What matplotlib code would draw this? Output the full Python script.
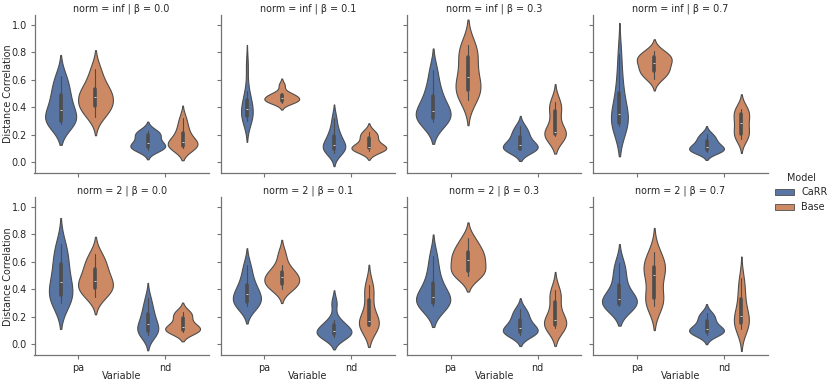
import matplotlib
matplotlib.use("Agg")
import matplotlib.pyplot as plt
from matplotlib.patches import Patch
import pandas as pd
import seaborn as sns

# distance correlation of 10 runs per violin
# norm = inf
inf_b00_pa_carr = [0.28, 0.29, 0.30, 0.31, 0.36, 0.40, 0.45, 0.50, 0.56, 0.625]
inf_b00_pa_base = [0.33, 0.38, 0.40, 0.42, 0.46, 0.49, 0.51, 0.54, 0.60, 0.68]
inf_b00_nd_carr = [0.085, 0.10, 0.105, 0.12, 0.13, 0.145, 0.18, 0.20, 0.21, 0.23]
inf_b00_nd_base = [0.105, 0.11, 0.115, 0.125, 0.14, 0.15, 0.18, 0.22, 0.26, 0.32]

inf_b01_pa_carr = [0.30, 0.32, 0.33, 0.34, 0.38, 0.395, 0.43, 0.46, 0.52, 0.70]
inf_b01_pa_base = [0.43, 0.44, 0.445, 0.455, 0.46, 0.47, 0.48, 0.495, 0.50, 0.56]
inf_b01_nd_carr = [0.07, 0.09, 0.095, 0.105, 0.12, 0.135, 0.17, 0.20, 0.24, 0.32]
inf_b01_nd_base = [0.08, 0.09, 0.10, 0.105, 0.108, 0.11, 0.15, 0.18, 0.20, 0.22]

inf_b03_pa_carr = [0.29, 0.31, 0.32, 0.33, 0.36, 0.39, 0.44, 0.49, 0.56, 0.67]
inf_b03_pa_base = [0.45, 0.50, 0.52, 0.54, 0.60, 0.635, 0.72, 0.78, 0.82, 0.855]
inf_b03_nd_carr = [0.085, 0.09, 0.095, 0.105, 0.12, 0.135, 0.16, 0.195, 0.22, 0.26]
inf_b03_nd_base = [0.19, 0.195, 0.20, 0.205, 0.21, 0.225, 0.33, 0.39, 0.41, 0.44]

inf_b07_pa_carr = [0.265, 0.27, 0.275, 0.30, 0.33, 0.37, 0.44, 0.52, 0.62, 0.79]
inf_b07_pa_base = [0.605, 0.64, 0.66, 0.675, 0.71, 0.73, 0.75, 0.765, 0.78, 0.81]
inf_b07_nd_carr = [0.073, 0.08, 0.085, 0.095, 0.105, 0.12, 0.135, 0.16, 0.18, 0.205]
inf_b07_nd_base = [0.17, 0.19, 0.20, 0.23, 0.27, 0.30, 0.33, 0.36, 0.38, 0.39]

# norm = 2
l2_b00_pa_carr = [0.30, 0.32, 0.35, 0.37, 0.43, 0.47, 0.53, 0.60, 0.66, 0.73]
l2_b00_pa_base = [0.345, 0.38, 0.40, 0.43, 0.45, 0.47, 0.52, 0.56, 0.60, 0.655]
l2_b00_nd_carr = [0.068, 0.085, 0.095, 0.105, 0.13, 0.16, 0.19, 0.23, 0.27, 0.335]
l2_b00_nd_base = [0.09, 0.095, 0.10, 0.11, 0.12, 0.135, 0.16, 0.20, 0.22, 0.235]

l2_b01_pa_carr = [0.275, 0.29, 0.30, 0.32, 0.35, 0.375, 0.40, 0.44, 0.50, 0.575]
l2_b01_pa_base = [0.40, 0.42, 0.435, 0.45, 0.48, 0.495, 0.51, 0.53, 0.58, 0.66]
l2_b01_nd_carr = [0.056, 0.065, 0.07, 0.08, 0.09, 0.105, 0.12, 0.15, 0.175, 0.30]
l2_b01_nd_base = [0.13, 0.135, 0.14, 0.145, 0.16, 0.18, 0.25, 0.35, 0.40, 0.43]

l2_b03_pa_carr = [0.28, 0.29, 0.30, 0.31, 0.33, 0.36, 0.41, 0.46, 0.54, 0.645]
l2_b03_pa_base = [0.50, 0.51, 0.525, 0.55, 0.60, 0.625, 0.65, 0.675, 0.72, 0.77]
l2_b03_nd_carr = [0.068, 0.08, 0.085, 0.095, 0.115, 0.125, 0.155, 0.185, 0.22, 0.255]
l2_b03_nd_base = [0.12, 0.125, 0.14, 0.145, 0.165, 0.19, 0.24, 0.33, 0.36, 0.395]

l2_b07_pa_carr = [0.275, 0.28, 0.29, 0.30, 0.32, 0.335, 0.38, 0.45, 0.52, 0.59]
l2_b07_pa_base = [0.28, 0.31, 0.33, 0.345, 0.48, 0.525, 0.55, 0.57, 0.61, 0.67]
l2_b07_nd_carr = [0.068, 0.08, 0.09, 0.10, 0.105, 0.118, 0.14, 0.175, 0.20, 0.225]
l2_b07_nd_base = [0.11, 0.135, 0.155, 0.165, 0.19, 0.225, 0.27, 0.35, 0.41, 0.48]

norms = ["inf", "2"]
betas = [0.0, 0.1, 0.3, 0.7]
variables = ["pa", "nd"]
models = ["CaRR", "Base"]

# (norm, beta) -> [pa CaRR, pa Base, nd CaRR, nd Base]
runs = {
    ("inf", 0.0): [inf_b00_pa_carr, inf_b00_pa_base, inf_b00_nd_carr, inf_b00_nd_base],
    ("inf", 0.1): [inf_b01_pa_carr, inf_b01_pa_base, inf_b01_nd_carr, inf_b01_nd_base],
    ("inf", 0.3): [inf_b03_pa_carr, inf_b03_pa_base, inf_b03_nd_carr, inf_b03_nd_base],
    ("inf", 0.7): [inf_b07_pa_carr, inf_b07_pa_base, inf_b07_nd_carr, inf_b07_nd_base],
    ("2", 0.0): [l2_b00_pa_carr, l2_b00_pa_base, l2_b00_nd_carr, l2_b00_nd_base],
    ("2", 0.1): [l2_b01_pa_carr, l2_b01_pa_base, l2_b01_nd_carr, l2_b01_nd_base],
    ("2", 0.3): [l2_b03_pa_carr, l2_b03_pa_base, l2_b03_nd_carr, l2_b03_nd_base],
    ("2", 0.7): [l2_b07_pa_carr, l2_b07_pa_base, l2_b07_nd_carr, l2_b07_nd_base],
}

rows = []
for (norm, beta), groups in runs.items():
    combos = [(v, m) for v in variables for m in models]
    for (var, model), vals in zip(combos, groups):
        for x in vals:
            rows.append({"norm": norm, "β": beta, "Variable": var,
                         "Model": model, "Distance Correlation": x})
df = pd.DataFrame(rows)

sns.set_style("ticks")
fs = 6.9
plt.rcParams.update({
    "font.family": ["DejaVu Sans"],
    "font.size": fs,
    "axes.labelsize": fs,
    "axes.titlesize": fs,
    "xtick.labelsize": fs,
    "ytick.labelsize": fs,
    "legend.fontsize": fs,
    "legend.title_fontsize": fs,
    "axes.linewidth": 0.9,
    "axes.edgecolor": "0.45",
    "xtick.color": "0.45",
    "ytick.color": "0.45",
    "xtick.labelcolor": "0.15",
    "ytick.labelcolor": "0.15",
    "xtick.major.size": 3,
    "ytick.major.size": 3,
    "xtick.major.width": 0.8,
    "ytick.major.width": 0.8,
    "xtick.major.pad": 2.5,
    "ytick.major.pad": 2.5,
})

colors = sns.color_palette("deep", 2)
fill = [sns.desaturate(c, 0.75) for c in colors]


def draw_facet(data, color=None, **kws):
    ax = plt.gca()
    # one call per variable so the violin widths are scaled within each variable
    for var in variables:
        sns.violinplot(data=data[data["Variable"] == var], x="Variable",
                       y="Distance Correlation", hue="Model", order=variables,
                       hue_order=models, palette=colors, common_norm=True,
                       linewidth=0.8, linecolor="0.3", legend=False, ax=ax,
                       inner_kws=dict(box_width=2.6, whis_width=0.8, markersize=2))


g = sns.FacetGrid(df, row="norm", col="β", row_order=norms, col_order=betas,
                  height=1.9, aspect=1.1, despine=True)
g.map_dataframe(draw_facet)
g.set_axis_labels("Variable", "Distance Correlation")
g.set_titles("{row_var} = {row_name} | {col_var} = {col_name}", pad=2.5)
g.set(ylim=(-0.08, 1.07), yticks=[0.0, 0.2, 0.4, 0.6, 0.8, 1.0])

fig = g.figure
fig.set_size_inches(8.31, 3.85)
fig.subplots_adjust(left=34.5 / 831, right=767.5 / 831, bottom=0.0771,
                    top=370 / 385, wspace=0.069, hspace=0.152)

for ax in g.axes.flat:
    ax.yaxis.set_label_coords(-0.125, 0.5)
    ax.xaxis.set_label_coords(0.5, -0.10)

handles = [Patch(facecolor=fill[i], edgecolor="0.3", linewidth=0.6) for i in range(2)]
fig.legend(handles, models, title="Model", loc="center left",
           bbox_to_anchor=(766 / 831, 0.5), frameon=False)

fig.savefig("out.png", dpi=100)
